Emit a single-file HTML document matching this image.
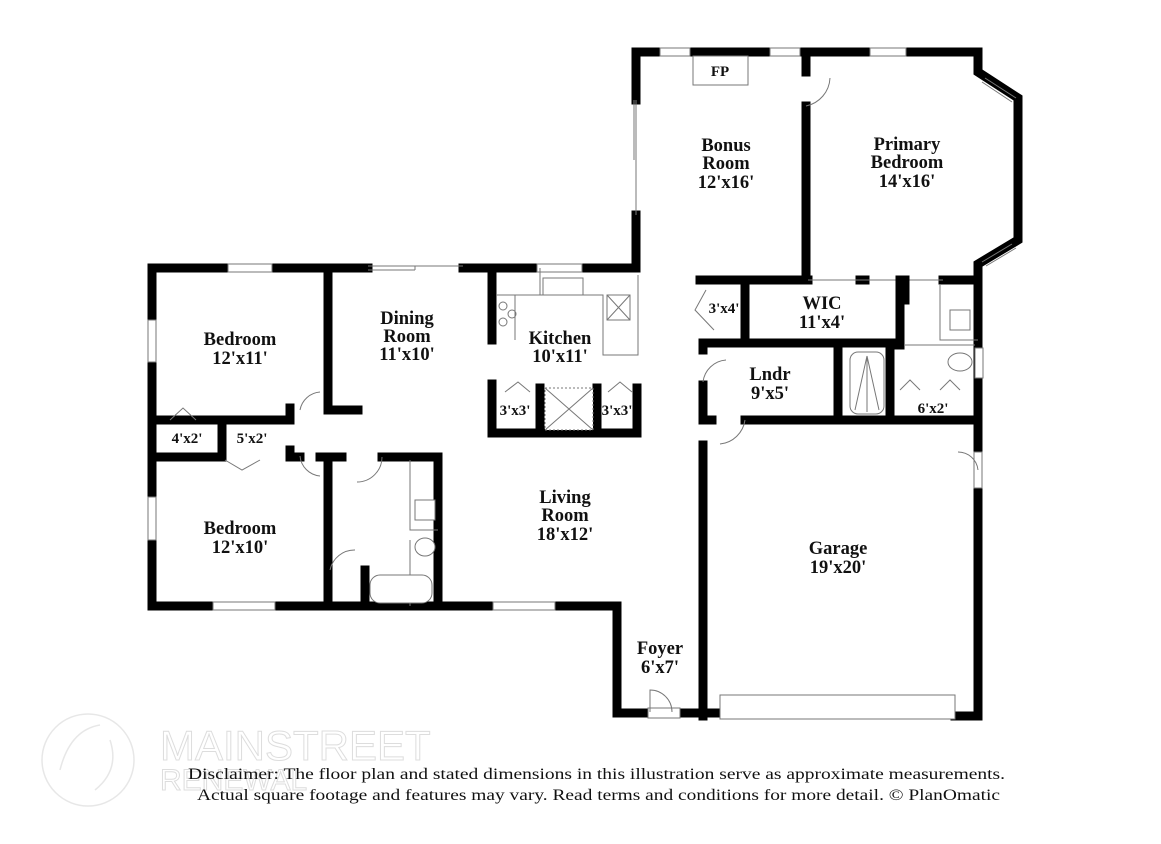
<!DOCTYPE html>
<html><head><meta charset="utf-8"><style>
html,body{margin:0;padding:0;background:#fff;}
svg{display:block}
.w{stroke:#000;stroke-width:9;fill:none;stroke-linecap:square}
.t{stroke:#777;stroke-width:1;fill:#fff}
.th{stroke:#777;stroke-width:1;fill:none}
.lbl{font-family:"Liberation Serif",serif;font-weight:bold;font-size:18.5px;text-anchor:middle;fill:#111}
.sm{font-family:"Liberation Serif",serif;font-weight:bold;font-size:15px;text-anchor:middle;fill:#111}
</style></head><body>
<svg width="1161" height="844" viewBox="0 0 1161 844" xmlns="http://www.w3.org/2000/svg">
<rect width="1161" height="844" fill="#fff"/>
<g opacity="0.35" stroke="#bbb" fill="none" stroke-width="1.5">
<circle cx="88" cy="760" r="46"/>
<path d="M60 770 Q70 730 100 725 M95 790 Q120 770 110 740"/>
</g>
<text x="160" y="760" font-family="Liberation Sans,sans-serif" font-size="42" fill="none" stroke="#ddd" stroke-width="1">MAINSTREET</text>
<text x="160" y="790" font-family="Liberation Sans,sans-serif" font-size="30" fill="none" stroke="#ddd" stroke-width="1">RENEWAL</text>

<path class="w" d="M152 268 H368 M463 268 H636 V215 M636 100 V52 H978 V72 L1018 98 V240 L978 264 V716 H955"/>
<path class="w" d="M152 268 V606 H617 V713 H647 M680 713 H720"/>
<path class="th" d="M368 266 H463 M368 270 H415 M415 266 V270 M636 100 V215 M634 100 V160"/>
<g class="t">
<rect x="228" y="264" width="44" height="8"/><rect x="537" y="264" width="45" height="8"/>
<rect x="148" y="320" width="8" height="42"/><rect x="148" y="497" width="8" height="43"/>
<rect x="213" y="602" width="62" height="8"/><rect x="493" y="602" width="62" height="8"/>
<rect x="660" y="48" width="30" height="8"/><rect x="770" y="48" width="30" height="8"/><rect x="870" y="48" width="36" height="8"/>
<rect x="974" y="452" width="8" height="36"/>
<rect x="720" y="695" width="235" height="24"/>
<rect x="648" y="708" width="32" height="10"/>
</g>
<g class="th"><path d="M985 78 L1016 98 M982 82 L1012 102 M1012 244 L982 262 M1016 248 L986 266"/></g>
<rect x="693" y="56" width="55" height="29" class="t"/>
<text x="720" y="76" class="sm" font-size="11">FP</text>

<path class="w" d="M806 56 V72 M806 106 V280"/>
<path class="th" d="M806 106 A30 30 0 0 0 830 78"/>
<path class="w" d="M700 280 H808 M860 280 H865 M943 280 H978"/>
<path class="th" d="M808 280 H905 M905 280 H943"/>
<path class="w" d="M745 280 V343 M900 280 V345 M703 343 H900 M703 343 V350"/>
<path class="th" d="M706 290 L695 310 L714 330"/>
<path class="w" d="M905 280 V300"/>
<rect x="950" y="310" width="20" height="20" class="t"/>
<path class="th" d="M940 285 V340 H978 M905 345 H975"/>
<path class="w" d="M703 385 V420 M703 445 V716 M838 343 V420 M703 420 H712 M745 420 H978 M890 350 V420 M890 345 V355 M894 345 H900"/>
<path class="th" d="M703 382 A25 25 0 0 1 726 360 M745 420 A28 28 0 0 1 720 444"/>
<rect x="850" y="352" width="34" height="62" rx="8" class="t"/>
<path class="th" d="M867 356 L855 410 M867 356 L879 410 M867 356 V412"/>
<ellipse cx="960" cy="362" rx="12" ry="9" class="t"/>
<path class="th" d="M900 390 L910 380 L920 390 M940 390 L950 380 L960 390"/>
<rect x="975" y="348" width="8" height="30" class="t"/>
<path class="th" d="M978 470 A20 20 0 0 0 958 452"/>

<path class="w" d="M492 270 V340"/>
<path class="th" d="M496 295 H515 V340 M515 295 V340 M540 268 V295 H603 V355 H638 V275 M540 295 H496 M607 295 H630 V320 H607 Z M607 295 L630 320 M630 295 L607 320"/>
<rect x="543" y="278" width="40" height="17" class="t"/>
<circle cx="503" cy="306" r="4" class="th"/><circle cx="503" cy="322" r="4" class="th"/><circle cx="512" cy="314" r="4" class="th"/>
<path class="w" d="M492 384 V433 H637 V388 M540 388 V433 M597 388 V433"/>
<rect x="545" y="388" width="48" height="42" class="t" stroke-dasharray="2,2"/>
<path class="th" d="M545 388 L593 430 M593 388 L545 430 M505 392 L518 382 L530 392 M608 392 L620 382 L632 392"/>

<path class="w" d="M328 272 V410 H358"/>
<path class="w" d="M152 420 H290 V408 M222 420 V457 M152 457 H222 M290 450 V457 H300"/>
<path class="th" d="M170 420 L183 408 L196 420 M225 460 L242 470 L260 460 M300 410 A22 22 0 0 1 320 392 M300 456 A22 22 0 0 0 320 476"/>
<path class="w" d="M320 457 H342 M382 457 H438 V606 M328 457 V606 M365 570 V606"/>
<path class="th" d="M382 457 A25 25 0 0 1 357 482 M330 570 A25 25 0 0 1 355 550 M410 460 V530 H438 M410 540 V606"/>
<rect x="415" y="500" width="20" height="20" class="t"/>
<ellipse cx="425" cy="547" rx="10" ry="9" class="t"/>
<rect x="370" y="575" width="62" height="28" rx="10" class="t"/>
<path class="th" d="M650 712 V690 A22 22 0 0 1 672 712"/>

<text class="lbl" x="240" y="345">Bedroom</text><text class="lbl" x="240" y="364">12'x11'</text>
<text class="lbl" x="240" y="534">Bedroom</text><text class="lbl" x="240" y="553">12'x10'</text>
<text class="lbl" x="407" y="324">Dining</text><text class="lbl" x="407" y="342">Room</text><text class="lbl" x="407" y="360">11'x10'</text>
<text class="lbl" x="560" y="344">Kitchen</text><text class="lbl" x="560" y="362">10'x11'</text>
<text class="lbl" x="565" y="503">Living</text><text class="lbl" x="565" y="521">Room</text><text class="lbl" x="565" y="540">18'x12'</text>
<text class="lbl" x="726" y="151">Bonus</text><text class="lbl" x="726" y="169">Room</text><text class="lbl" x="726" y="188">12'x16'</text>
<text class="lbl" x="907" y="150">Primary</text><text class="lbl" x="907" y="168">Bedroom</text><text class="lbl" x="907" y="187">14'x16'</text>
<text class="lbl" x="822" y="309">WIC</text><text class="lbl" x="822" y="328">11'x4'</text>
<text class="lbl" x="770" y="380">Lndr</text><text class="lbl" x="770" y="399">9'x5'</text>
<text class="lbl" x="838" y="554">Garage</text><text class="lbl" x="838" y="573">19'x20'</text>
<text class="lbl" x="660" y="654">Foyer</text><text class="lbl" x="660" y="673">6'x7'</text>
<text class="sm" x="187" y="443">4'x2'</text><text class="sm" x="252" y="443">5'x2'</text>
<text class="sm" x="515" y="415">3'x3'</text><text class="sm" x="617" y="415">3'x3'</text>
<text class="sm" x="724" y="313" font-size="12">3'x4'</text><text class="sm" x="933" y="413">6'x2'</text>
<text x="188" y="779" font-family="Liberation Serif,serif" font-size="16" textLength="817" lengthAdjust="spacingAndGlyphs" fill="#111">Disclaimer: The floor plan and stated dimensions in this illustration serve as approximate measurements.</text>
<text x="197" y="800" font-family="Liberation Serif,serif" font-size="16" textLength="803" lengthAdjust="spacingAndGlyphs" fill="#111">Actual square footage and features may vary. Read terms and conditions for more detail. © PlanOmatic</text>
</svg>
</body></html>
